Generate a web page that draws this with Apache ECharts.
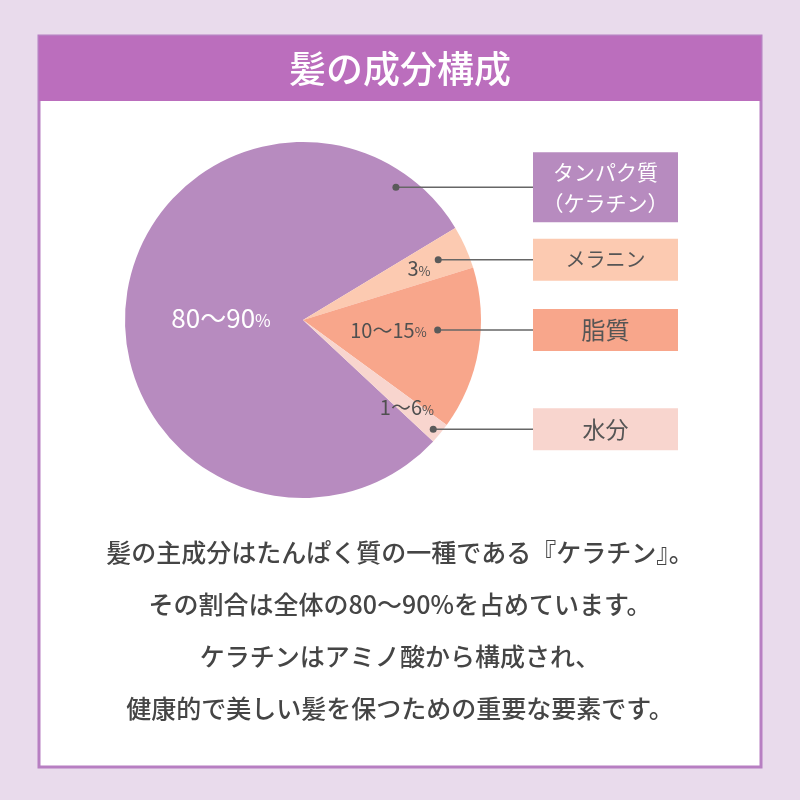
<!DOCTYPE html>
<html>
<head>
<meta charset="utf-8">
<script src="https://cdn.jsdelivr.net/npm/echarts@6/dist/echarts.min.js"></script>
<style>
html, body { margin: 0; padding: 0; background: #e9dbec; }
#chart { width: 800px; height: 800px; }
</style>
</head>
<body>
<div id="chart"></div>
<script>
// data
const titleText = '髪の成分構成'
const names = ['タンパク質\n（ケラチン）', 'メラニン', '脂質', '水分']
const values = [79.4, 3.9, 14.8, 1.9]   // share of the circle as drawn
const percentLabels = ['80〜90', '3', '10〜15', '1〜6']
const noteLines = [
    '髪の主成分はたんぱく質の一種である『ケラチン』。',
    'その割合は全体の80〜90%を占めています。',
    'ケラチンはアミノ酸から構成され、',
    '健康的で美しい髪を保つための重要な要素です。'
]

// styles / layout
const colors = ['#b78bbf', '#fccab1', '#f8a68b', '#f8d5ce']
const nameColors = ['#ffffff', '#555555', '#555555', '#555555']
const nameSizes = [21, 20, 24, 23]
const FONT = '"Noto Sans CJK JP", "Noto Sans", sans-serif'
const cx = 303, cy = 320, r = 178
const pctSpots = [[178.6, 82], [24.1, 127], [-6.7, 86], [-40.2, 136]]   // [angle, radius]
const dotSpots = [[55, 162], [24, 148], [-4.2, 135], [-40, 170]]
const boxLeft = 533, boxWidth = 145

const polar = (a, rr) => [cx + rr * Math.cos(a * Math.PI / 180), cy - rr * Math.sin(a * Math.PI / 180)]

const chart = echarts.init(document.getElementById('chart'))

chart.setOption({
    backgroundColor: '#e9dbec',
    animation: false,
    title: {
        text: titleText,
        left: 'center',
        top: 45,
        textStyle: { color: '#ffffff', fontSize: 37, fontWeight: 500, fontFamily: FONT }
    },
    graphic: [
        {
            type: 'rect', z: 0,
            shape: { x: 39, y: 36, width: 722, height: 731 },
            style: { fill: '#ffffff', stroke: '#b77fc2', lineWidth: 3 }
        },
        {
            type: 'rect', z: 0,
            shape: { x: 39, y: 36, width: 722, height: 65 },
            style: { fill: '#bb6ebd' }
        },
        {
            type: 'text', z: 1,
            style: {
                text: noteLines.join('\n'),
                x: 400, y: 630,
                align: 'center', verticalAlign: 'middle',
                fill: '#454545', fontSize: 25, fontWeight: 500, lineHeight: 52, fontFamily: FONT
            }
        },
        // dots where the leader lines start
        ...dotSpots.map(s => {
            const [x, y] = polar(s[0], s[1])
            return { type: 'circle', z: 100, shape: { cx: x, cy: y, r: 3.5 }, style: { fill: '#5a5a5a' } }
        })
    ],
    series: [
        {
            type: 'pie',
            center: [cx, cy],
            radius: r,
            startAngle: 317,
            clockwise: true,
            silent: true,
            data: values.map((v, i) => ({ value: v, name: names[i], itemStyle: { color: colors[i] } })),
            label: {
                show: true,
                position: 'inside',
                formatter: p => p.dataIndex === 0
                    ? `{nb|${percentLabels[p.dataIndex]}}{pb|%}`
                    : `{n|${percentLabels[p.dataIndex]}}{p|%}`,
                rich: {
                    n: { fontSize: 20, color: '#505050', fontFamily: FONT },
                    p: { fontSize: 13, color: '#505050', fontFamily: FONT, padding: [5, 0, 0, 0] },
                    nb: { fontSize: 26, color: '#ffffff', fontFamily: FONT },
                    pb: { fontSize: 17, color: '#ffffff', fontFamily: FONT, padding: [6, 0, 0, 0] }
                }
            },
            labelLine: { show: false },
            labelLayout: p => {
                const [x, y] = polar(pctSpots[p.dataIndex][0], pctSpots[p.dataIndex][1])
                return { x: x, y: y, align: 'center', verticalAlign: 'middle' }
            }
        },
        {
            type: 'pie',
            center: [cx, cy],
            radius: r,
            startAngle: 317,
            clockwise: true,
            silent: true,
            z: 3,
            itemStyle: { color: 'rgba(0,0,0,0)' },
            data: values.map((v, i) => ({
                value: v,
                name: names[i],
                label: {
                    backgroundColor: colors[i],
                    color: nameColors[i],
                    fontSize: nameSizes[i],
                    lineHeight: i === 0 ? 31 : 42,
                    padding: i === 0 ? [4, 0, 4, 0] : 0
                }
            })),
            label: {
                show: true,
                position: 'outside',
                formatter: p => p.name,
                width: boxWidth,
                align: 'center',
                fontFamily: FONT
            },
            labelLine: { show: true, lineStyle: { color: '#666666', width: 1.5 } },
            labelLayout: p => {
                const [dx, dy] = polar(dotSpots[p.dataIndex][0], dotSpots[p.dataIndex][1])
                return {
                    x: boxLeft + boxWidth / 2,
                    y: dy,
                    align: 'center',
                    verticalAlign: 'middle',
                    labelLinePoints: [[dx, dy], [boxLeft, dy], [boxLeft, dy]]
                }
            }
        }
    ]
})
</script>
</body>
</html>
